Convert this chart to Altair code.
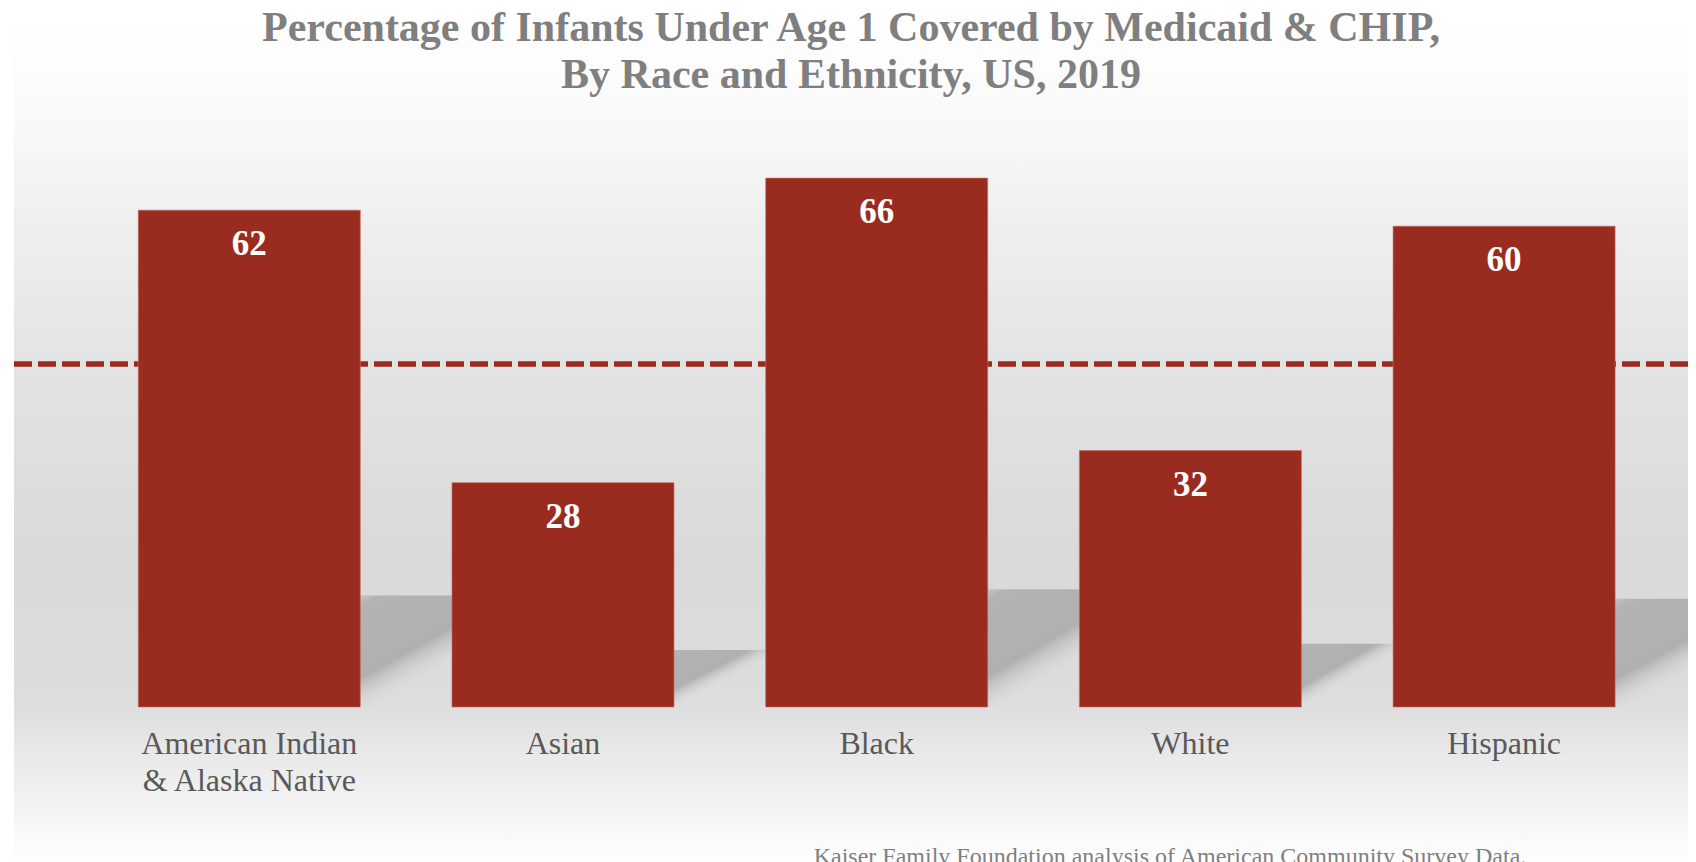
import altair as alt
import pandas as pd

# ---- data ----
categories = ["American Indian & Alaska Native", "Asian", "Black", "White", "Hispanic"]
values = [62, 28, 66, 32, 60]
reference_value = [42.8]
title_lines = ["Percentage of Infants  Under Age 1 Covered by Medicaid  & CHIP,",
               "By Race and Ethnicity,  US, 2019"]
source_note = ["Kaiser Family Foundation analysis of American Community Survey  Data."]

df = pd.DataFrame({"group": categories, "value": values})
ref_df = pd.DataFrame({"ref": reference_value})
one = pd.DataFrame({"k": [0]})

# ---- layout ----
W = 1674
H = 601
PAD_L, PAD_T, PAD_R, PAD_B = 6, 98, 0, 159
RED = "#9a2c1f"

x_scale = alt.Scale(domain=categories, paddingInner=0.2923, paddingOuter=0.3143, align=0.6303)
y_scale = alt.Scale(domain=[0, 75], nice=False, zero=True)

label_expr = ("indexof(datum.label, ' & ') > 0 ? "
              "[slice(datum.label, 0, indexof(datum.label, ' & ')), "
              "slice(datum.label, indexof(datum.label, ' & ') + 1)] : datum.label")

x_axis = alt.Axis(title=None, domain=False, ticks=False, grid=False, labelAngle=0,
                  labelFont="Liberation Serif", labelFontSize=32, labelColor="#595959",
                  labelPadding=21, labelBaseline="top", labelLineHeight=37,
                  labelLimit=500, labelExpr=label_expr, zindex=1)

x_enc = alt.X("group:N", scale=x_scale, sort=categories, axis=x_axis)

bg_gradient = {
    "gradient": "linear", "x1": 0, "y1": 0, "x2": 0, "y2": 1,
    "stops": [
        {"offset": 0.0, "color": "#ffffff"},
        {"offset": 0.119, "color": "#fafafa"},
        {"offset": 0.235, "color": "#f0f0f0"},
        {"offset": 0.416, "color": "#e3e3e3"},
        {"offset": 0.643, "color": "#d9d9d9"},
        {"offset": 0.807, "color": "#dddddd"},
        {"offset": 0.888, "color": "#ececec"},
        {"offset": 1.0, "color": "#ffffff"},
    ],
}

shadow_gradient = {
    "gradient": "linear", "x1": 0, "y1": 0, "x2": 1, "y2": 1,
    "stops": [
        {"offset": 0.0, "color": "#cfcfcf"},
        {"offset": 0.08, "color": "#b3b3b3"},
        {"offset": 0.40, "color": "#b0b0b0"},
        {"offset": 0.56, "color": "rgba(215,215,215,0)"},
        {"offset": 1.0, "color": "rgba(215,215,215,0)"},
    ],
}

background = alt.Chart(one).mark_rect(fill=bg_gradient).encode(
    x=alt.value(0), x2=alt.value(W), y=alt.value(-PAD_T), y2=alt.value(H + PAD_B)
)

rule = alt.Chart(ref_df).mark_rule(color=RED, strokeWidth=5.5, strokeDash=[18, 6]).encode(
    y=alt.Y("ref:Q", scale=y_scale, axis=None), x=alt.value(0), x2=alt.value(W)
)

base = alt.Chart(df)

shadow_tall = base.transform_filter("datum.value >= 50").transform_calculate(
    shadow="datum.value * 0.2 + 1.5"
).mark_bar(fill=shadow_gradient, width=200, xOffset=199).encode(
    x=x_enc, y=alt.Y("shadow:Q", scale=y_scale, axis=None)
)

shadow_short = base.transform_filter("datum.value < 50").transform_calculate(
    shadow="datum.value * 0.2 + 1.5"
).mark_bar(fill=shadow_gradient, width=110, xOffset=153).encode(
    x=x_enc, y=alt.Y("shadow:Q", scale=y_scale, axis=None)
)

bars = base.mark_bar(color=RED, stroke="#c46a5f", strokeWidth=1, strokeOpacity=0.6).encode(
    x=x_enc, y=alt.Y("value:Q", scale=y_scale, axis=None)
)

value_text = base.mark_text(font="Liberation Serif", fontWeight="bold", fontSize=35,
                            color="white", baseline="alphabetic", align="center", dy=45).encode(
    x=x_enc, y=alt.Y("value:Q", scale=y_scale, axis=None), text=alt.Text("value:Q")
)

title_text = alt.Chart(one).mark_text(
    text=title_lines, font="Liberation Serif", fontWeight="bold", fontSize=42,
    color="#7f7f7f", align="center", baseline="alphabetic", lineHeight=47
).encode(x=alt.value(W / 2), y=alt.value(41 - 106))

note_text = alt.Chart(one).mark_text(
    text=source_note[0], font="Liberation Serif", fontSize=24, color="#7f7f7f",
    align="center", baseline="alphabetic"
).encode(x=alt.value(1156), y=alt.value(864 - 106))

chart = alt.layer(
    background, rule, shadow_tall, shadow_short, bars, value_text, title_text, note_text
).properties(
    width=W, height=H,
    padding={"left": PAD_L, "top": PAD_T, "right": PAD_R, "bottom": PAD_B},
    autosize=alt.AutoSizeParams(type="none"),
    background="white",
).configure_view(stroke=None)

chart.save("out.html", embed_options={"renderer": "svg", "actions": False})
